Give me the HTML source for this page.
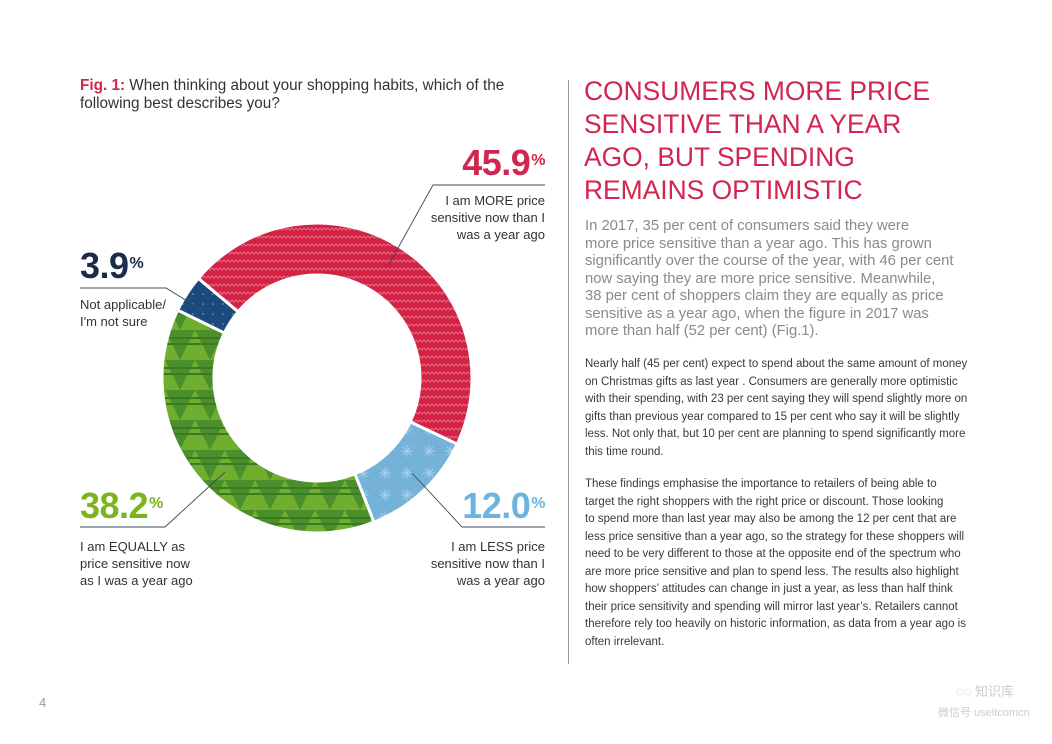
<!DOCTYPE html>
<html><head><meta charset="utf-8">
<style>
html,body{margin:0;padding:0;background:#fff;}
body{width:1052px;height:744px;position:relative;overflow:hidden;font-family:"Liberation Sans","Noto Sans CJK SC",sans-serif;}
.a{position:absolute;white-space:nowrap;}
.lbl{font-size:13px;color:#333;line-height:17px;}
.big{font-weight:bold;font-size:36px;letter-spacing:-0.5px;line-height:36px;}
.big sup{font-size:16px;vertical-align:top;position:relative;top:-2px;margin-left:1px;}
.h{color:#d0264f;font-size:26.4px;line-height:33px;}
.p1{color:#8a8a8a;font-size:14.8px;line-height:17.5px;}
.p2{color:#3a3a3a;font-size:11.5px;line-height:17.5px;}
</style></head><body>

<div class="a" style="left:80px;top:77px;font-size:15.3px;line-height:18px;color:#333;"><b style="color:#d0264f">Fig. 1:</b> When thinking about your shopping habits, which of the<br>following best describes you?</div>

<svg id="chart" width="560" height="744" style="position:absolute;left:0;top:0">
<defs>
<pattern id="pRed" width="8" height="8" patternUnits="userSpaceOnUse"><rect width="8" height="8" fill="#d42245"/><path d="M0 4 L2 6 L4 4 L6 6 L8 4" stroke="#e26c84" stroke-width="1" fill="none"/></pattern>
<pattern id="pBlue" width="22" height="22" patternUnits="userSpaceOnUse"><rect width="22" height="22" fill="#74b2d8"/><path d="M11 5 V17 M5 11 H17 M7 7 L15 15 M15 7 L7 15" stroke="#a8d0ea" stroke-width="1"/></pattern>
<pattern id="pGreen" width="30" height="30" patternUnits="userSpaceOnUse"><rect width="30" height="30" fill="#4a8f2c"/><path d="M0 30 L15 0 L30 30 Z" fill="#6fae2e"/><path d="M0 8 H30 M0 14 H30" stroke="#3a7a24" stroke-width="2"/></pattern>
<pattern id="pNavy" width="10" height="10" patternUnits="userSpaceOnUse"><rect width="10" height="10" fill="#1b4a7c"/><circle cx="3" cy="4" r="0.8" fill="#7fa6cc"/></pattern>
</defs>
<g id="slices"></g>
<g id="leaders" stroke="#3a4a5a" stroke-width="0.9" fill="none">
<path d="M545 185 H433 L388 266"/>
<path d="M80 288 H166 L205 312"/>
<path d="M80 527 H165 L225 472"/>
<path d="M545 527 H462 L412 473"/>
</g>
</svg>

<div class="a big" style="right:507px;top:145px;color:#d0264f;">45.9<sup>%</sup></div>
<div class="a lbl" style="right:507px;top:192px;text-align:right;">I am MORE price<br>sensitive now than I<br>was a year ago</div>

<div class="a big" style="left:80px;top:248px;color:#1c2b4a;">3.9<sup>%</sup></div>
<div class="a lbl" style="left:80px;top:296px;">Not applicable/<br>I'm not sure</div>

<div class="a big" style="left:80px;top:488px;color:#7ab51d;">38.2<sup>%</sup></div>
<div class="a lbl" style="left:80px;top:538px;">I am EQUALLY as<br>price sensitive now<br>as I was a year ago</div>

<div class="a big" style="right:507px;top:488px;color:#6cb4e0;">12.0<sup>%</sup></div>
<div class="a lbl" style="right:507px;top:538px;text-align:right;">I am LESS price<br>sensitive now than I<br>was a year ago</div>

<div class="a" style="left:568px;top:80px;width:1px;height:584px;background:#999;"></div>

<div class="a h" style="left:584px;top:75px;">CONSUMERS MORE PRICE<br>SENSITIVE THAN A YEAR<br>AGO, BUT SPENDING<br>REMAINS OPTIMISTIC</div>

<div class="a p1" style="left:585px;top:218px;">In 2017, 35 per cent of consumers said they were<br>more price sensitive than a year ago. This has grown<br>significantly over the course of the year, with 46 per cent<br>now saying they are more price sensitive. Meanwhile,<br>38 per cent of shoppers claim they are equally as price<br>sensitive as a year ago, when the figure in 2017 was<br>more than half (52 per cent) (Fig.1).</div>

<div class="a p2" style="left:585px;top:356px;">Nearly half (45 per cent) expect to spend about the same amount of money<br>on Christmas gifts as last year . Consumers are generally more optimistic<br>with their spending, with 23 per cent saying they will spend slightly more on<br>gifts than previous year compared to 15 per cent who say it will be slightly<br>less. Not only that, but 10 per cent are planning to spend significantly more<br>this time round.</div>

<div class="a p2" style="left:585px;top:476px;">These findings emphasise the importance to retailers of being able to<br>target the right shoppers with the right price or discount. Those looking<br>to spend more than last year may also be among the 12 per cent that are<br>less price sensitive than a year ago, so the strategy for these shoppers will<br>need to be very different to those at the opposite end of the spectrum who<br>are more price sensitive and plan to spend less. The results also highlight<br>how shoppers’ attitudes can change in just a year, as less than half think<br>their price sensitivity and spending will mirror last year’s. Retailers cannot<br>therefore rely too heavily on historic information, as data from a year ago is<br>often irrelevant.</div>

<div class="a" style="left:39px;top:695px;font-size:13px;color:#999;">4</div>
<div class="a" style="left:950px;top:682px;font-size:13px;color:#ccc;line-height:20px;"><span style="margin-left:6px">◌◌ 知识库</span><br><span style="font-size:11px;margin-left:-12px">微信号 useitcomcn</span></div>

<script>
const categories = ["More price sensitive", "Less price sensitive", "Equally price sensitive", "Not applicable"];
const values = [45.9, 12.0, 38.2, 3.9];
const fills = ["url(#pRed)", "url(#pBlue)", "url(#pGreen)", "url(#pNavy)"];
const cx = 317, cy = 378, rOut = 155, rIn = 103, startDeg = -50;
const total = values.reduce((a, b) => a + b, 0);
function angleOf(v) { return startDeg + v / total * 360; }
function pt(r, deg) { const t = deg * Math.PI / 180; return [cx + r * Math.sin(t), cy - r * Math.cos(t)]; }
const g = document.getElementById('slices');
let acc = 0;
values.forEach((v, i) => {
  const a0 = angleOf(acc), a1 = angleOf(acc + v);
  acc += v;
  const large = (a1 - a0) > 180 ? 1 : 0;
  const p0 = pt(rOut, a0), p1 = pt(rOut, a1), p2 = pt(rIn, a1), p3 = pt(rIn, a0);
  const path = document.createElementNS('http://www.w3.org/2000/svg', 'path');
  path.setAttribute('d', `M${p0} A${rOut} ${rOut} 0 ${large} 1 ${p1} L${p2} A${rIn} ${rIn} 0 ${large} 0 ${p3} Z`);
  path.setAttribute('fill', fills[i]);
  path.setAttribute('stroke', '#fff');
  path.setAttribute('stroke-width', '3');
  
  
  g.appendChild(path);
});
</script>
</body></html>
